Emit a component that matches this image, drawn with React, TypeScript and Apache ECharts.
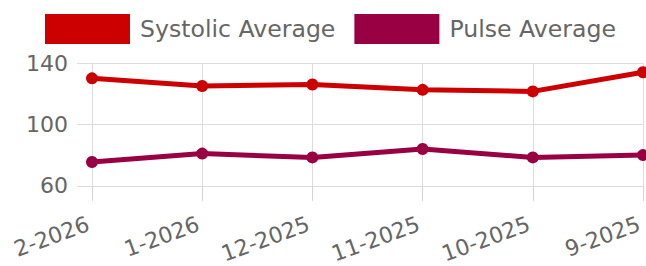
import React, { useEffect, useRef } from "react";
import * as echarts from "echarts";

const categories = ["2-2026", "1-2026", "12-2025", "11-2025", "10-2025", "9-2025"];
const systolicAverage = [130, 125, 126, 122.5, 121.5, 134];
const pulseAverage = [75.5, 81, 78.5, 84, 78.5, 80];
const yMin = 60;
const yMax = 140;
const yInterval = 40;

const RED = "#cc0000";
const PURPLE = "#990044";
const GRID = "#dddddd";
const FONT = "DejaVu Sans";

export default function App() {
  const ref = useRef<HTMLDivElement>(null);
  useEffect(() => {
    if (!ref.current) return;
    const chart = echarts.init(ref.current, null, { renderer: "svg" });
    chart.setOption({
      animation: false,
      textStyle: { fontFamily: FONT },
      legend: {
        left: 40,
        top: 9,
        itemWidth: 85,
        itemHeight: 30,
        itemGap: 19,
        icon: "rect",
        textStyle: { fontFamily: FONT, fontSize: 23.6, color: "#666", padding: [0, 0, 0, 5] },
        data: ["Systolic Average", "Pulse Average"],
      },
      grid: { left: 92, right: 3, top: 63, bottom: 79, containLabel: false },
      xAxis: {
        type: "category",
        data: categories,
        boundaryGap: false,
        axisLine: { show: true, lineStyle: { color: GRID, width: 1 } },
        axisTick: { show: true, length: 15, alignWithLabel: true, lineStyle: { color: "#d4d4d4", width: 1 } },
        splitLine: { show: true, lineStyle: { color: GRID, width: 1 } },
        axisLabel: {
          rotate: 20,
          margin: 36,
          padding: [0, 4, 0, 0],
          fontFamily: FONT,
          fontSize: 22,
          color: "#666",
        },
      },
      yAxis: {
        type: "value",
        min: yMin,
        max: yMax,
        interval: yInterval,
        axisLine: { show: true, lineStyle: { color: GRID, width: 1 } },
        axisTick: { show: true, length: 15, lineStyle: { color: GRID } },
        splitLine: { show: true, lineStyle: { color: GRID, width: 1 } },
        axisLabel: { margin: 24, padding: [0, 0, 5, 0], fontFamily: FONT, fontSize: 22, color: "#666" },
      },
      series: [
        {
          name: "Systolic Average",
          type: "line",
          data: systolicAverage,
          color: RED,
          symbol: "circle",
          symbolSize: 12,
          lineStyle: { width: 5, color: RED },
          itemStyle: { color: RED },
        },
        {
          name: "Pulse Average",
          type: "line",
          data: pulseAverage,
          color: PURPLE,
          symbol: "circle",
          symbolSize: 12,
          lineStyle: { width: 5, color: PURPLE },
          itemStyle: { color: PURPLE },
        },
      ],
    });
    return () => chart.dispose();
  }, []);
  return <div ref={ref} style={{ width: 646, height: 266, position: "absolute", left: 0, top: 0 }} />;
}
